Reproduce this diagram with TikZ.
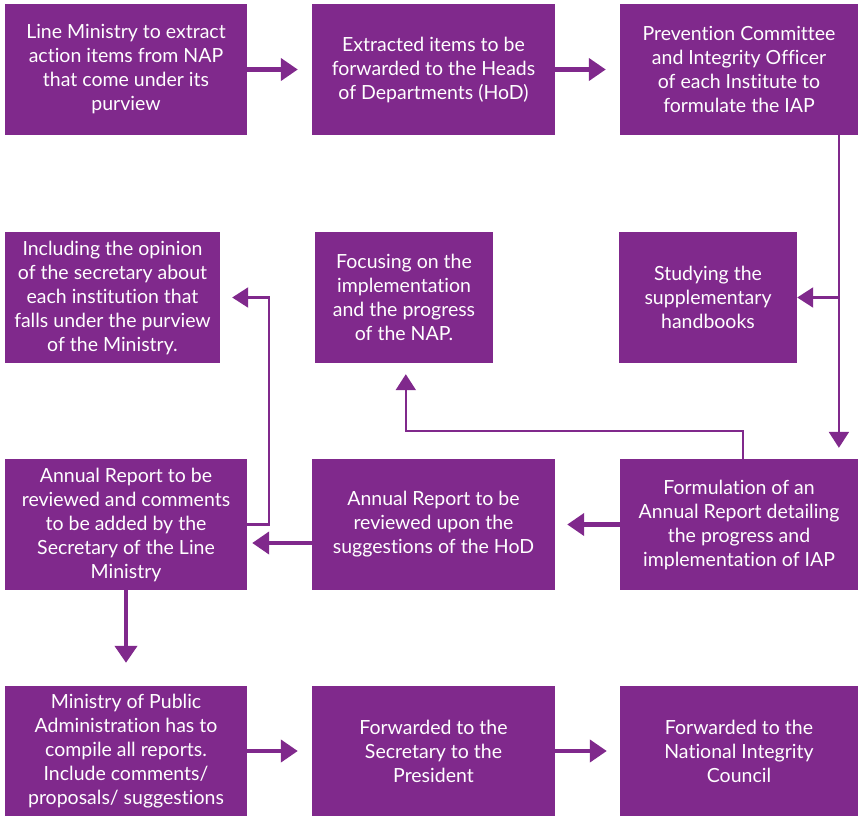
\documentclass[tikz,border=0pt]{standalone}
\usepackage{fontspec}
\setmainfont{Lato}[Ligatures=NoCommon]
\usetikzlibrary{arrows.meta,calc}
\definecolor{purp}{HTML}{80298C}
\tikzset{
  box/.style={rectangle, fill=purp, text=white, align=center, inner sep=0pt,
    minimum height=131pt, font=\fontsize{19.5}{24}\selectfont},
  thickarr/.style={draw=purp, line width=4.2pt, -{Triangle[length=17pt,width=22pt]}},
  thinarr/.style={draw=purp, line width=2.2pt, -{Triangle[length=16pt,width=20pt]}},
}
\begin{document}
\begin{tikzpicture}[x=1pt,y=-1pt]
\useasboundingbox (0,0) rectangle (858,816);
% row 1
\node[box, minimum width=242pt] (A1) at (126,69.5) {Line Ministry to extract\\action items from NAP\\that come under its\\purview};
\node[box, minimum width=243pt] (A2) at (433.5,69.5) {Extracted items to be\\forwarded to the Heads\\of Departments (HoD)};
\node[box, minimum width=238pt] (A3) at (739,69.5) {Prevention Committee\\and Integrity Officer\\of each Institute to\\formulate the IAP};
% row 2
\node[box, minimum width=215pt] (B1) at (112.5,297.5) {Including the opinion\\of the secretary about\\each institution that\\falls under the purview\\of the Ministry.};
\node[box, minimum width=178pt] (B2) at (404,297.5) {Focusing on the\\implementation\\and the progress\\of the NAP.};
\node[box, minimum width=178pt] (B3) at (708,297.5) {Studying the\\supplementary\\handbooks};
% row 3
\node[box, minimum width=242pt] (C1) at (126,524.5) {Annual Report to be\\reviewed and comments\\to be added by the\\Secretary of the Line\\Ministry};
\node[box, minimum width=243pt] (C2) at (433.5,524.5) {Annual Report to be\\reviewed upon the\\suggestions of the HoD};
\node[box, minimum width=238pt] (C3) at (739,524.5) {Formulation of an\\Annual Report detailing\\the progress and\\implementation of IAP};
% row 4
\node[box, minimum width=242pt, minimum height=130pt] (D1) at (126,751) {Ministry of Public\\Administration has to\\compile all reports.\\Include comments/\\proposals/ suggestions};
\node[box, minimum width=243pt, minimum height=130pt] (D2) at (433.5,751) {Forwarded to the\\Secretary to the\\President};
\node[box, minimum width=238pt, minimum height=130pt] (D3) at (739,751) {Forwarded to the\\National Integrity\\Council};
% connectors
\draw[thickarr, shorten >=14pt] (A1) -- (A2);
\draw[thickarr, shorten >=14pt] (A2) -- (A3);
\coordinate (j1) at ($(B3.east)+(41.7,0)$);
\draw[thinarr, shorten >=11pt] ($(A3.south east)+(-19.3,0)$) -- ($(C3.north east)+(-19.3,0)$);
\draw[thinarr] (j1) -- (B3);
\draw[thinarr, shorten >=11pt] ($(C3.north west)+(123,0)$) |- ($(B2.south west)+(91,68)$) -- ($(B2.south west)+(91,0)$);
\draw[thickarr, shorten >=12pt] (C3) -- (C2);
\draw[thickarr, shorten >=5pt] ($(C2.west)+(0,18.5)$) -- ($(C1.east)+(0,18.5)$);
\draw[thinarr, shorten >=12pt] (C1.east) -- ++(22,0) |- (B1.east);
\draw[thickarr, shorten >=23pt] (C1) -- (D1);
\draw[thickarr, shorten >=14pt] (D1) -- (D2);
\draw[thickarr, shorten >=13pt] (D2) -- (D3);
\end{tikzpicture}
\end{document}
